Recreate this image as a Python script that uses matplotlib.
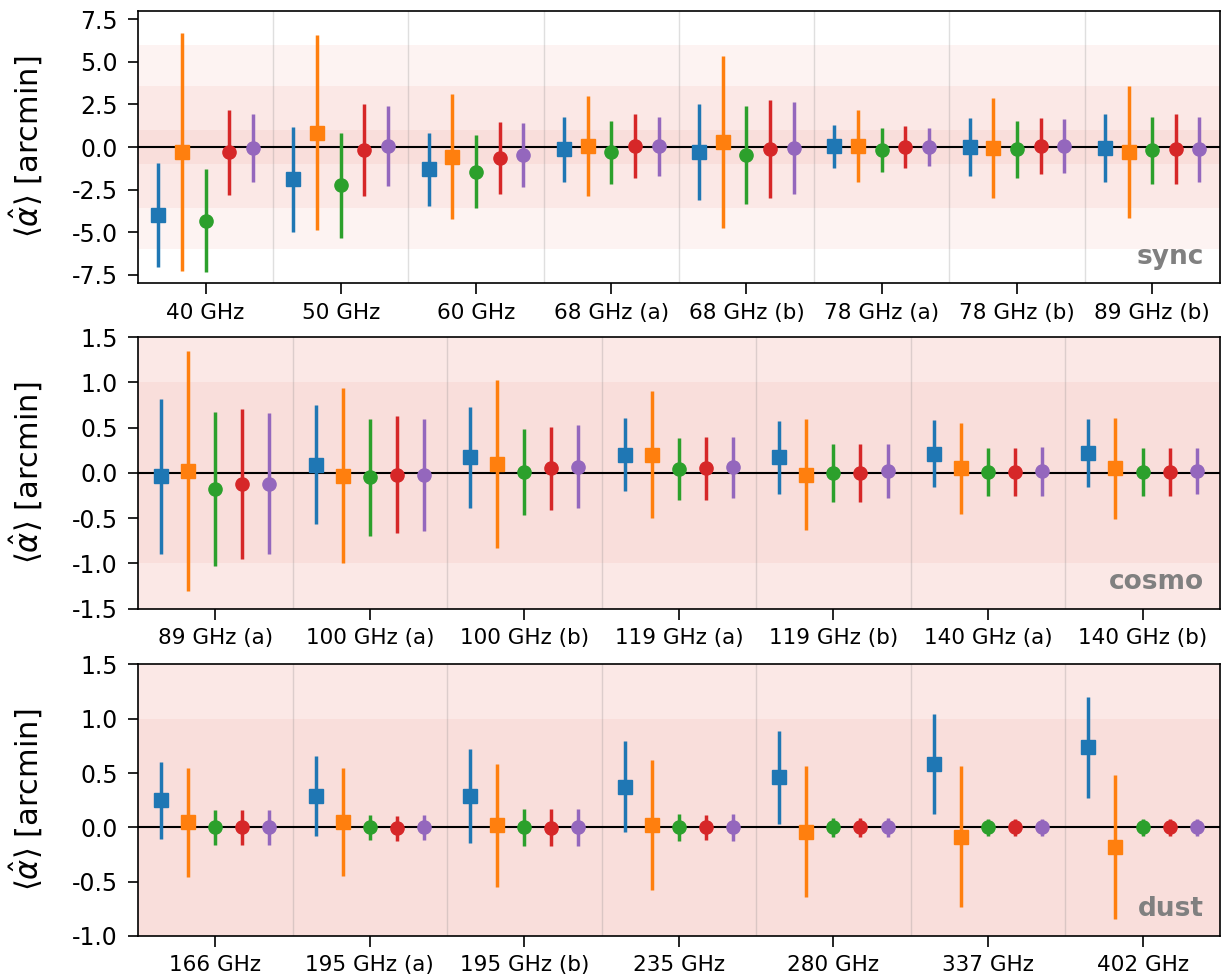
import matplotlib
matplotlib.use("Agg")
import matplotlib.pyplot as plt
import numpy as np

plt.rcParams['axes.unicode_minus'] = False

#%% Data
series_colors = ["tab:blue", "tab:orange", "tab:green", "tab:red", "tab:purple"]
series_markers = ["s", "s", "o", "o", "o"]

sync_labels = ["40 GHz", "50 GHz", "60 GHz", "68 GHz (a)", "68 GHz (b)",
               "78 GHz (a)", "78 GHz (b)", "89 GHz (b)"]
# rows = series (blue, orange, green, red, purple), cols = channels
sync_mean = [
    [-4.0, -1.9, -1.3, -0.13, -0.31, 0.05, 0.0, -0.07],
    [-0.3, 0.85, -0.56, 0.05, 0.27, 0.06, -0.08, -0.3],
    [-4.33, -2.25, -1.45, -0.31, -0.48, -0.19, -0.13, -0.19],
    [-0.3, -0.2, -0.65, 0.06, -0.12, 0.0, 0.06, -0.13],
    [-0.06, 0.05, -0.47, 0.05, -0.06, 0.0, 0.05, -0.13],
]
sync_err = [
    [3.05, 3.1, 2.15, 1.92, 2.81, 1.27, 1.69, 1.98],
    [7.0, 5.7, 3.65, 2.92, 5.05, 2.11, 2.93, 3.87],
    [3.03, 3.1, 2.15, 1.86, 2.87, 1.29, 1.68, 1.98],
    [2.5, 2.7, 2.1, 1.87, 2.86, 1.22, 1.63, 2.04],
    [2.0, 2.33, 1.9, 1.74, 2.68, 1.1, 1.6, 1.92],
]

cosmo_labels = ["89 GHz (a)", "100 GHz (a)", "100 GHz (b)", "119 GHz (a)",
                "119 GHz (b)", "140 GHz (a)", "140 GHz (b)"]
cosmo_mean = [
    [-0.04, 0.09, 0.17, 0.2, 0.17, 0.21, 0.22],
    [0.02, -0.03, 0.1, 0.2, -0.02, 0.05, 0.05],
    [-0.18, -0.05, 0.01, 0.04, 0.0, 0.01, 0.01],
    [-0.12, -0.02, 0.05, 0.05, 0.0, 0.01, 0.01],
    [-0.12, -0.02, 0.07, 0.06, 0.02, 0.02, 0.02],
]
cosmo_err = [
    [0.855, 0.66, 0.56, 0.405, 0.4, 0.37, 0.38],
    [1.33, 0.97, 0.93, 0.7, 0.61, 0.5, 0.555],
    [0.85, 0.65, 0.48, 0.34, 0.32, 0.26, 0.26],
    [0.83, 0.645, 0.46, 0.35, 0.32, 0.26, 0.26],
    [0.78, 0.62, 0.46, 0.34, 0.3, 0.27, 0.25],
]

dust_labels = ["166 GHz", "195 GHz (a)", "195 GHz (b)", "235 GHz",
               "280 GHz", "337 GHz", "402 GHz"]
dust_mean = [
    [0.25, 0.29, 0.29, 0.375, 0.46, 0.58, 0.735],
    [0.045, 0.05, 0.02, 0.02, -0.04, -0.085, -0.18],
    [0.0, 0.0, 0.0, 0.0, 0.0, 0.0, 0.0],
    [0.0, -0.01, -0.005, 0.0, 0.0, 0.0, 0.0],
    [0.0, 0.0, 0.0, 0.0, 0.0, 0.0, 0.0],
]
dust_err = [
    [0.355, 0.37, 0.43, 0.42, 0.43, 0.46, 0.465],
    [0.5, 0.5, 0.565, 0.6, 0.6, 0.645, 0.66],
    [0.16, 0.115, 0.17, 0.125, 0.085, 0.08, 0.08],
    [0.16, 0.115, 0.17, 0.115, 0.085, 0.08, 0.08],
    [0.16, 0.115, 0.17, 0.125, 0.085, 0.08, 0.08],
]

bands = [6.0, 3.6, 1.0]


#%% Plot helper
def panel(ax, labels, means, errs, ylim, yticks, name):
    n = len(labels)
    x = np.arange(n)
    offsets = np.linspace(-0.35, 0.35, 5)

    for b in bands:
        ax.axhspan(-b, b, color="#e0402f", alpha=0.06, lw=0, zorder=0)
    for i in range(n - 1):
        ax.axvline(i + 0.5, color="gray", alpha=0.25, lw=1, zorder=1)
    ax.axhline(0, color="k", lw=1.5, zorder=2)

    for k in range(5):
        ax.errorbar(x + offsets[k], means[k], yerr=errs[k], fmt=series_markers[k],
                    color=series_colors[k], ms=9.5, elinewidth=2.5, capsize=0, zorder=3)

    ax.set_xlim(-0.5, n - 0.5)
    ax.set_ylim(*ylim)
    ax.set_yticks(yticks)
    ax.set_xticks(x)
    ax.set_xticklabels(labels, fontsize=15.5)
    ax.tick_params(axis="y", labelsize=17, length=7.5, width=1.2, pad=7)
    ax.tick_params(axis="x", length=8, width=1.2, pad=6)
    ax.set_ylabel(r"$\langle\hat{\alpha}\rangle$ [arcmin]", fontsize=22)
    ax.yaxis.set_label_coords(-0.087, 0.5)
    ax.text(0.985, 0.05, name, transform=ax.transAxes, ha="right", va="bottom",
            fontsize=19, fontweight="bold", color="gray", zorder=4)
    for s in ax.spines.values():
        s.set_linewidth(1.2)


#%% Figure
fig = plt.figure(figsize=(12.21, 9.77), dpi=100)
ax1 = fig.add_axes([0.113, 0.710, 0.886, 0.279])
ax2 = fig.add_axes([0.113, 0.377, 0.886, 0.278])
ax3 = fig.add_axes([0.113, 0.042, 0.886, 0.278])

panel(ax1, sync_labels, sync_mean, sync_err, (-8, 8),
      [-7.5, -5.0, -2.5, 0.0, 2.5, 5.0, 7.5], "sync")
panel(ax2, cosmo_labels, cosmo_mean, cosmo_err, (-1.5, 1.5),
      [-1.5, -1.0, -0.5, 0.0, 0.5, 1.0, 1.5], "cosmo")
panel(ax3, dust_labels, dust_mean, dust_err, (-1.0, 1.5),
      [-1.0, -0.5, 0.0, 0.5, 1.0, 1.5], "dust")

for ax in (ax1, ax2, ax3):
    ax.yaxis.set_major_formatter(matplotlib.ticker.FormatStrFormatter("%.1f"))

fig.savefig("out.png", dpi=100)
